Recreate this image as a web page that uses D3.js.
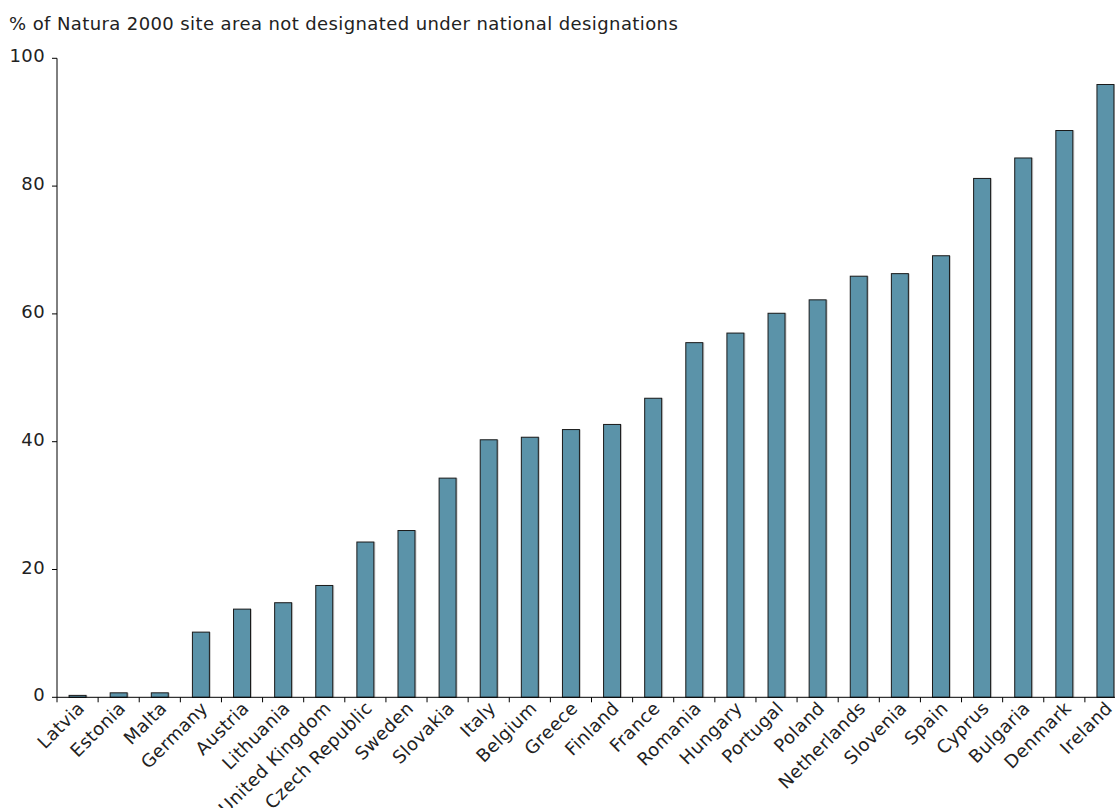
<!DOCTYPE html>
<html>
<head>
<meta charset="utf-8">
<script src="https://cdn.jsdelivr.net/npm/d3@7"></script>
<style>
  body { margin: 0; background: #fff; }
  text { font-family: "DejaVu Sans", Verdana, sans-serif; fill: #222; letter-spacing: 0.4px; }
</style>
</head>
<body>
<script>
const countries = ["Latvia", "Estonia", "Malta", "Germany", "Austria", "Lithuania",
    "United Kingdom", "Czech Republic", "Sweden", "Slovakia", "Italy", "Belgium",
    "Greece", "Finland", "France", "Romania", "Hungary", "Portugal", "Poland",
    "Netherlands", "Slovenia", "Spain", "Cyprus", "Bulgaria", "Denmark", "Ireland"];

const values = [0.3, 0.7, 0.7, 10.2, 13.8, 14.8, 17.5, 24.3, 26.1, 34.3, 40.3, 40.7,
    41.9, 42.7, 46.8, 55.5, 57.0, 60.1, 62.2, 65.9, 66.3, 69.1, 81.2, 84.4, 88.7, 95.9];

const yTicks = [0, 20, 40, 60, 80, 100];

const title = "% of Natura 2000 site area not designated under national designations";

const W = 1115, H = 808;
const mLeft = 57, mTop = 58.3, mBottom = 697.3, mRight = 1126;

const svg = d3.select("body")
    .append("svg")
    .attr("width", W)
    .attr("height", H);

// scales
const y = d3.scaleLinear().domain([0, 100]).range([mBottom, mTop]);

const x = d3.scaleBand()
    .domain(countries)
    .range([mLeft, mRight])
    .paddingInner(0.587)
    .paddingOuter(0.2935);

// band edges for the x ticks
const xEdge = d3.scaleBand().domain(countries).range([mLeft, mRight]).padding(0);

// title
svg.append("text")
    .attr("x", 9)
    .attr("y", 30)
    .attr("font-size", 18)
    .text(title);

// bars (with a faint shadow on the right)
svg.append("g")
    .selectAll("rect")
    .data(values)
    .enter()
    .append("rect")
    .attr("x", (d, i) => x(countries[i]) + 1.5)
    .attr("y", d => y(d))
    .attr("width", x.bandwidth())
    .attr("height", d => y(0) - y(d))
    .attr("fill", "#aaa")
    .attr("opacity", 0.6);

svg.append("g")
    .selectAll("rect")
    .data(values)
    .enter()
    .append("rect")
    .attr("x", (d, i) => x(countries[i]))
    .attr("y", d => y(d))
    .attr("width", x.bandwidth())
    .attr("height", d => y(0) - y(d))
    .attr("fill", "#5b93a9")
    .attr("stroke", "#1a1a1a")
    .attr("stroke-width", 1);

// y axis
const yAxis = svg.append("g");
yAxis.append("line")
    .attr("x1", mLeft).attr("x2", mLeft)
    .attr("y1", y(100)).attr("y2", y(0))
    .attr("stroke", "#000");

yAxis.selectAll(".tick")
    .data(yTicks)
    .enter()
    .append("line")
    .attr("x1", mLeft - 5).attr("x2", mLeft)
    .attr("y1", d => y(d)).attr("y2", d => y(d))
    .attr("stroke", "#000");

yAxis.selectAll("text")
    .data(yTicks)
    .enter()
    .append("text")
    .attr("x", mLeft - 12)
    .attr("y", d => y(d) + 4)
    .attr("text-anchor", "end")
    .attr("font-size", 18)
    .text(d => d);

// x axis
const xAxis = svg.append("g");
xAxis.append("line")
    .attr("x1", mLeft).attr("x2", mRight)
    .attr("y1", y(0)).attr("y2", y(0))
    .attr("stroke", "#000");

const edges = countries.map(c => xEdge(c)).concat([mRight]);
xAxis.selectAll(".tick")
    .data(edges)
    .enter()
    .append("line")
    .attr("x1", d => d).attr("x2", d => d)
    .attr("y1", y(0)).attr("y2", y(0) + 5)
    .attr("stroke", "#000");

xAxis.selectAll("text")
    .data(countries)
    .enter()
    .append("text")
    .attr("transform", d => {
        const cx = x(d) + x.bandwidth() / 2 + 8;
        return "translate(" + cx + "," + (y(0) + 12) + ") rotate(-45)";
    })
    .attr("text-anchor", "end")
    .attr("font-size", 18)
    .text(d => d);
</script>
</body>
</html>
